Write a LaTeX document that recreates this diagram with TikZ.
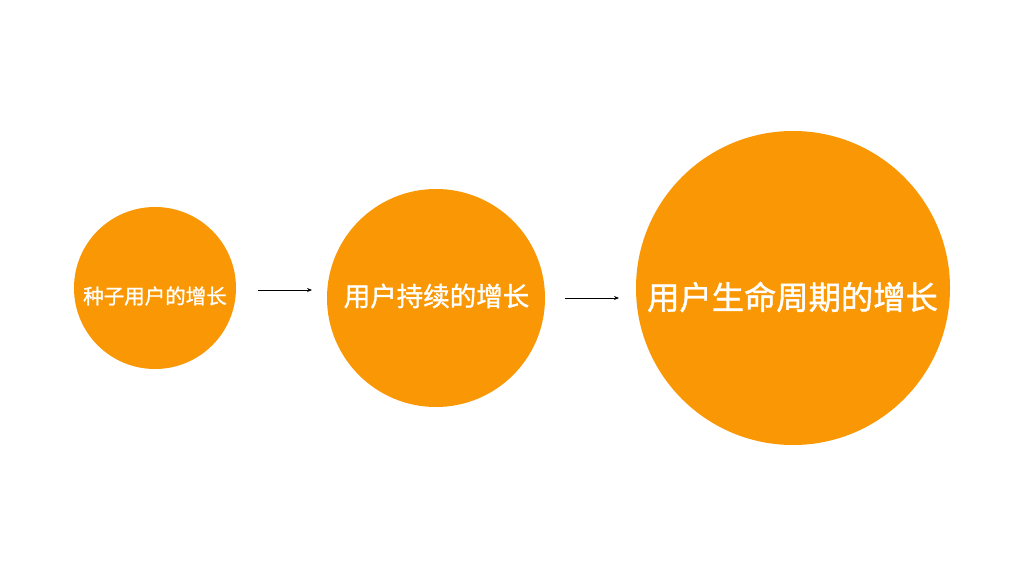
\documentclass[tikz,border=0pt]{standalone}
\usepackage{fontspec}
\newfontfamily\cjk{Noto Sans CJK SC}[FakeBold=1.2]
\usetikzlibrary{arrows.meta}
\definecolor{orng}{RGB}{249,151,4}
\tikzset{
  bubble/.style={circle, fill=orng, draw=none, inner sep=0pt},
  btext/.style={text=white, inner sep=0pt, font=\cjk},
  arr/.style={draw=black, line width=0.9pt, -{Stealth[length=5pt,width=4pt]}}
}
\begin{document}
\begin{tikzpicture}[x=1pt,y=1pt]
\useasboundingbox[fill=white] (0,0) rectangle (1024,576);
\node[bubble, minimum size=162pt] (c1) at (155,288) {};
\node[bubble, minimum size=218pt] (c2) at (436,278) {};
\node[bubble, minimum size=314pt] (c3) at (793,288) {};
\node[btext, font=\cjk\fontsize{20.5}{24}\selectfont] (t1) at (155,280) {种子用户的增长};
\node[btext, font=\cjk\fontsize{26.5}{30}\selectfont] (t2) at (436.5,280) {用户持续的增长};
\node[btext, font=\cjk\fontsize{32.3}{36}\selectfont] (t3) at (792.5,279) {用户生命周期的增长};
\coordinate (a1s) at (258,286);
\coordinate (a1e) at (312,286);
\coordinate (a2s) at (565,278);
\coordinate (a2e) at (619,278);
\draw[arr] (a1s) -- (a1e);
\draw[arr] (a2s) -- (a2e);
\end{tikzpicture}
\end{document}
